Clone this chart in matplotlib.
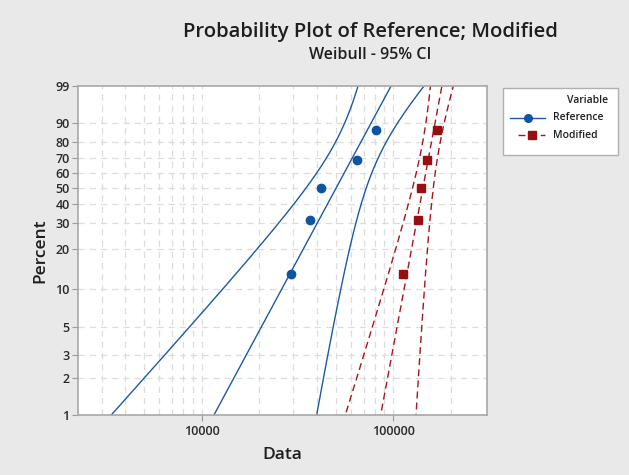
import numpy as np
import matplotlib
matplotlib.use('Agg')
from matplotlib import pyplot as plt
from matplotlib.patches import Rectangle

plt.rcParams['font.family'] = ['Open Sans', 'DejaVu Sans']

# data
reference = np.array([29300, 36900, 42100, 64600, 81500])
modified = np.array([112000, 134000, 140000, 150000, 170000])
series_names = ['Reference', 'Modified']
percent_ticks = [1, 2, 3, 5, 10, 20, 30, 40, 50, 60, 70, 80, 90, 99]
x_ticks = [10000, 100000]
x_grid = [3000, 4000, 5000, 6000, 7000, 8000, 9000,
          10000, 20000, 30000, 40000, 50000, 60000, 70000, 80000, 90000,
          100000, 200000]

blue = '#1c5aa3'
blue_pt = '#0b55a3'
red = '#a3161b'
red_pt = '#980f12'
bg = '#e9e9e9'
txt = '#1e1e1e'


def weib_fwd(p):
    p = np.clip(np.asarray(p, dtype=float), 1e-6, 100 - 1e-6)
    return np.log(-np.log(1 - p / 100.0))


def weib_inv(w):
    return 100.0 * (1 - np.exp(-np.exp(np.asarray(w, dtype=float))))


def weibull_fit(x):
    # maximum likelihood fit + normal approx. covariance (smallest extreme value form)
    y = np.log(x)
    t = y - y.mean()
    lo, hi = 0.05, 200.0
    for _ in range(200):
        beta = 0.5 * (lo + hi)
        e = np.exp(beta * t)
        g = np.sum(e * t) / np.sum(e) - 1.0 / beta
        if g > 0:
            hi = beta
        else:
            lo = beta
    eta = np.exp(y.mean()) * np.mean(np.exp(beta * t)) ** (1.0 / beta)
    u, b = np.log(eta), 1.0 / beta
    z = (y - u) / b
    ez = np.exp(z)
    huu = -np.sum(ez) / b**2
    hub = -(np.sum(ez - 1) + np.sum(z * ez)) / b**2
    hbb = np.sum(1 + 2 * z - 2 * z * ez - z**2 * ez) / b**2
    cov = np.linalg.inv(-np.array([[huu, hub], [hub, hbb]]))
    return u, b, cov


def ranks(n):
    i = np.arange(1, n + 1)
    return 100.0 * (i - 0.3) / (n + 0.4)


fig = plt.figure(figsize=(6.29, 4.75), dpi=100, facecolor=bg)
ax = fig.add_axes([78 / 629, 1 - 415 / 475, (487 - 78) / 629, (415 - 86) / 475])
ax.set_facecolor('white')
ax.set_xscale('log')
ax.set_yscale('function', functions=(weib_fwd, weib_inv))

for v in x_grid:
    ax.axvline(v, color='#dcdcdc', lw=0.9, ls=(0, (5, 4)), zorder=0)
for v in percent_ticks[1:-1]:
    ax.axhline(v, color='#dcdcdc', lw=0.9, ls=(0, (5, 4)), zorder=0)

pgrid = weib_inv(np.linspace(weib_fwd(0.3), weib_fwd(99.9), 300))
wgrid = weib_fwd(pgrid)
styles = [(reference, blue, blue_pt, '-', 'o', 6.0),
          (modified, red, red_pt, (0, (5, 3)), 's', 6.0)]
for data, lc, pc, ls, mk, ms in styles:
    u, b, cov = weibull_fit(data)
    yp = u + b * wgrid
    sd = np.sqrt(cov[0, 0] + wgrid**2 * cov[1, 1] + 2 * wgrid * cov[0, 1])
    ax.plot(np.exp(yp), pgrid, color=lc, lw=1.0, ls=ls, zorder=2)
    ax.plot(np.exp(yp - 1.96 * sd), pgrid, color=lc, lw=1.0, ls=ls, zorder=2)
    ax.plot(np.exp(yp + 1.96 * sd), pgrid, color=lc, lw=1.0, ls=ls, zorder=2)
    ax.plot(np.sort(data), ranks(len(data)), ls='none', marker=mk,
            color=pc, ms=ms, zorder=3)

ax.set_xlim(2260, 309000)
ax.set_ylim(1, 99)
ax.set_xticks(x_ticks)
ax.set_xticklabels([str(v) for v in x_ticks])
ax.xaxis.set_minor_locator(matplotlib.ticker.NullLocator())
ax.set_yticks(percent_ticks)
ax.set_yticklabels([str(v) for v in percent_ticks])
ax.yaxis.set_minor_locator(matplotlib.ticker.NullLocator())
ax.tick_params(axis='both', labelsize=9, colors='#2a2a2a', length=4,
               width=0.8, color='#9a9a9a')
ax.tick_params(axis='y', pad=2)
for lab in ax.get_xticklabels() + ax.get_yticklabels():
    lab.set_fontweight('semibold')
for s in ax.spines.values():
    s.set_color('#a8a8a8')
    s.set_linewidth(1.2)

ax.set_xlabel('Data', fontsize=12.5, color=txt, labelpad=6, fontweight='semibold')
ax.set_ylabel('Percent', fontsize=12.5, color=txt, labelpad=5, fontweight='semibold')

fig.text(370 / 629, 1 - 32 / 475, 'Probability Plot of Reference; Modified',
         ha='center', va='center', fontsize=14.6, color=txt, fontweight='semibold')
fig.text(370 / 629, 1 - 55 / 475, 'Weibull - 95% CI',
         ha='center', va='center', fontsize=11.5, color=txt, fontweight='semibold')

# legend box drawn in pixel units
lg = fig.add_axes([502 / 629, 1 - 155 / 475, 116 / 629, 68 / 475])
lg.set_xlim(0, 116)
lg.set_ylim(68, 0)
lg.axis('off')
lg.add_patch(Rectangle((0.5, 0.5), 115, 67, facecolor='white', edgecolor='#b0b0b0',
                       lw=1.0, clip_on=False))
lg.text(106, 13, 'Variable', ha='right', va='center', fontsize=7.5,
        color=txt, fontweight='semibold')
for k, (name, st) in enumerate(zip(series_names, styles)):
    yy = 31 + 17 * k
    x0 = 8 if k == 0 else 16
    lg.plot([x0, 43], [yy, yy], color=st[1], lw=1.0, ls=st[3])
    lg.plot([(x0 + 43) / 2 if k == 0 else 29.5], [yy], marker=st[4], color=st[2], ms=5.5)
    lg.text(51, yy, name, ha='left', va='center', fontsize=7.5, color=txt,
            fontweight='semibold')

fig.savefig('out.png', dpi=100, facecolor=bg)
